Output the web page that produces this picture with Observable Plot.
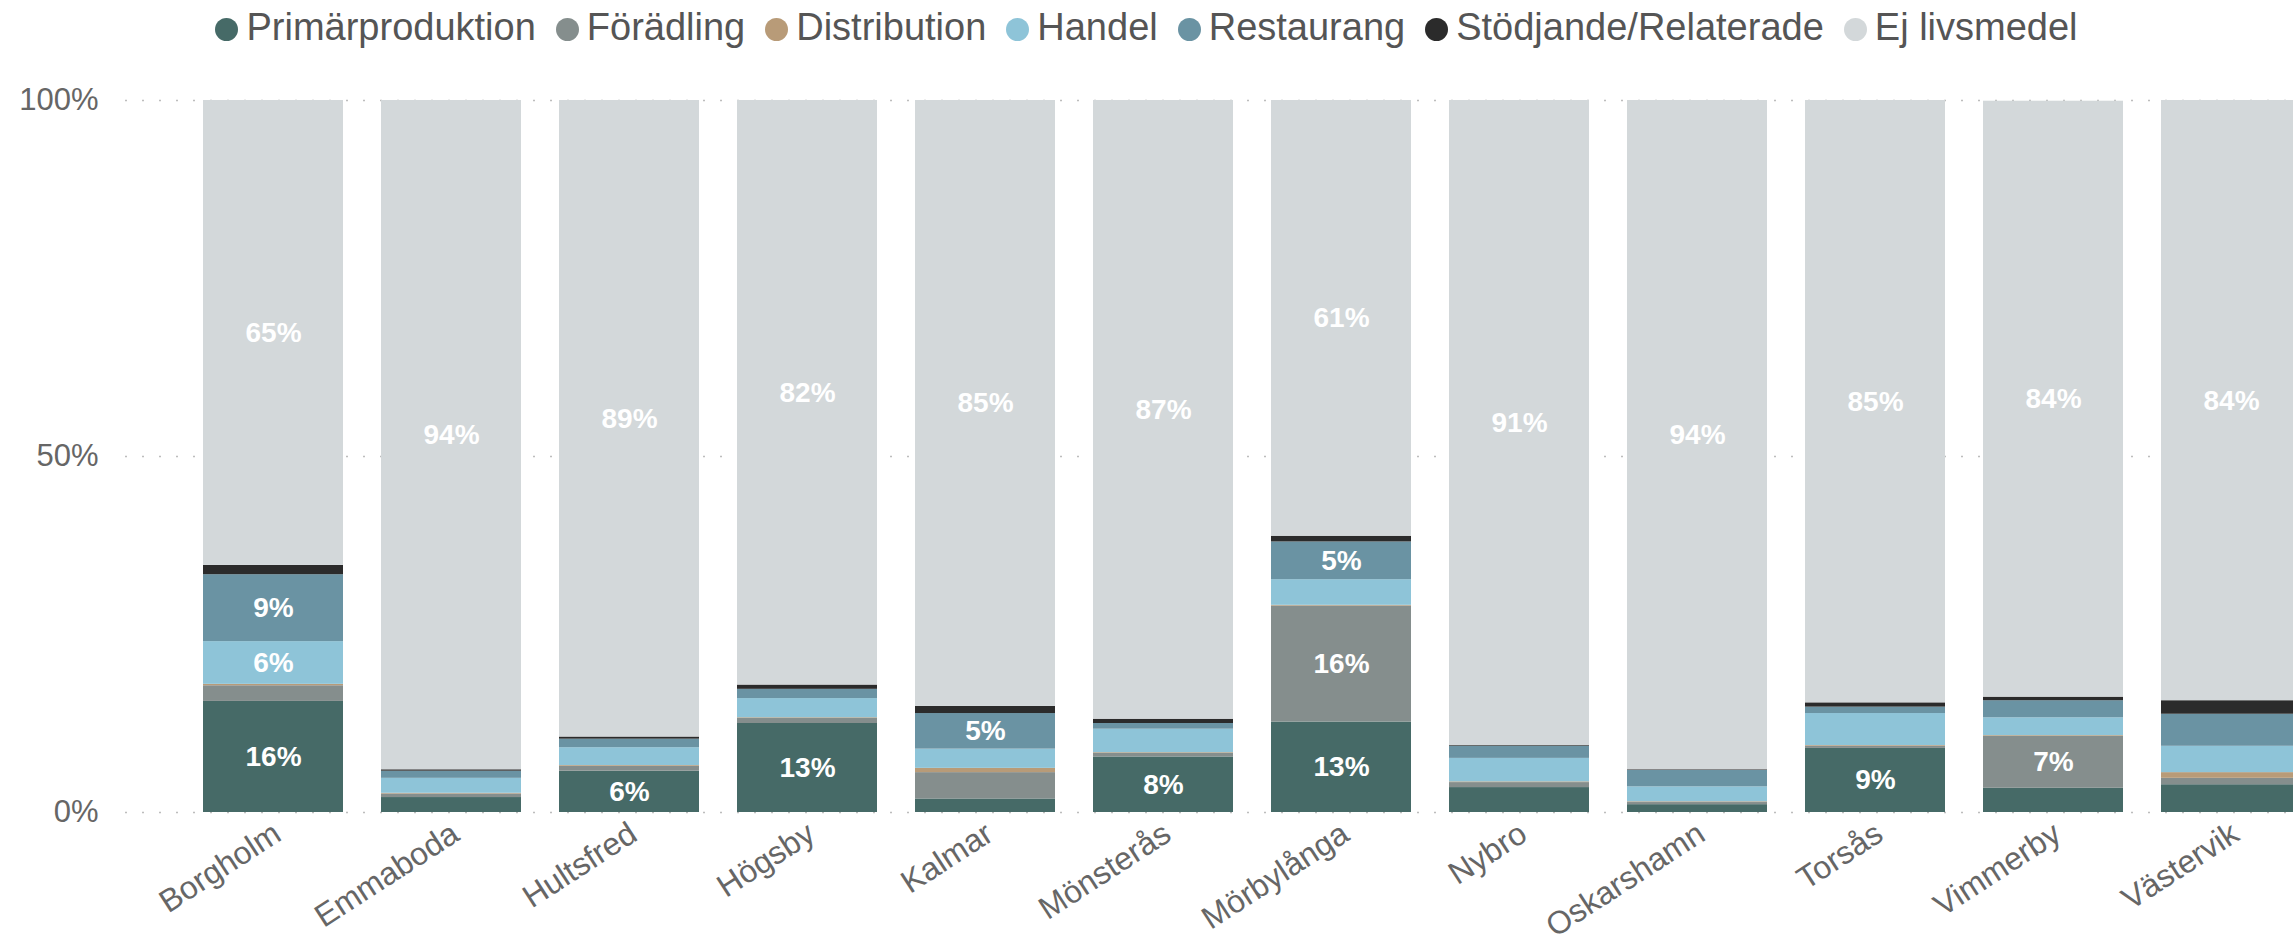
<!DOCTYPE html>
<html>
<head>
<meta charset="utf-8">
<script src="https://cdn.jsdelivr.net/npm/d3@7"></script>
<script src="https://cdn.jsdelivr.net/npm/@observablehq/plot@0.6"></script>
<style>
  html, body { margin: 0; padding: 0; background: #fff; overflow: hidden; }
  #legend { height: 54px; display: flex; justify-content: center; align-items: center; gap: 20px;
    font-family: "Liberation Sans", Arial, sans-serif; font-size: 38px; color: #555; white-space: nowrap; }
  .item { display: flex; align-items: center; gap: 8px; }
  .dot { width: 23px; height: 23px; border-radius: 50%; display: inline-block; margin-top: 4px; }
  #chart svg { overflow: hidden; }
</style>
</head>
<body>
<div id="legend"></div>
<div id="chart"></div>
<script>
const kommuner = ["Borgholm","Emmaboda","Hultsfred","Högsby","Kalmar","Mönsterås","Mörbylånga","Nybro","Oskarshamn","Torsås","Vimmerby","Västervik"];
const kategorier = ["Primärproduktion","Förädling","Distribution","Handel","Restaurang","Stödjande/Relaterade","Ej livsmedel"];
const farger = ["#466a67","#858e8d","#b89b78","#8ec4d8","#6a93a3","#2b2b2b","#d3d8da"];

const primarproduktion = [15.6, 2.1, 5.8, 12.5, 1.9, 7.8, 12.7, 3.5, 1.1, 9.0, 3.4, 3.9];
const foradling        = [ 2.2, 0.5, 0.7,  0.7, 3.7, 0.5, 16.3, 0.7, 0.3, 0.3, 7.3, 0.9];
const distribution     = [ 0.2, 0.1, 0.1,  0.1, 0.6, 0.1,  0.1, 0.1, 0.1, 0.1, 0.1, 0.8];
const handel           = [ 6.0, 2.1, 2.5,  2.7, 2.7, 3.3,  3.6, 3.3, 2.1, 4.5, 2.5, 3.7];
const restaurang       = [ 9.4, 1.0, 1.2,  1.3, 5.0, 0.8,  5.3, 1.7, 2.3, 0.9, 2.4, 4.5];
const stodjande        = [ 1.3, 0.2, 0.3,  0.6, 1.0, 0.6,  0.8, 0.1, 0.1, 0.6, 0.5, 1.9];
const ejLivsmedel      = [65.3,94.0,89.4, 82.1,85.1,86.9, 61.2,90.6,94.0,84.6,83.7,84.3];

const serier = [primarproduktion, foradling, distribution, handel, restaurang, stodjande, ejLivsmedel];
const rows = [];
kommuner.forEach((k, i) => {
  kategorier.forEach((c, j) => rows.push({kommun: k, kategori: c, value: serier[j][i]}));
});

// legend
const legend = document.getElementById("legend");
kategorier.forEach((c, j) => {
  const it = document.createElement("span");
  it.className = "item";
  it.innerHTML = `<span class="dot" style="background:${farger[j]}"></span><span>${c}</span>`;
  legend.appendChild(it);
});

const chart = Plot.plot({
  width: 2293,
  height: 898,
  marginTop: 46,
  marginBottom: 140,
  marginLeft: 162,
  marginRight: -48,
  style: {fontFamily: "'Liberation Sans', Arial, sans-serif", background: "white"},
  x: {domain: kommuner, paddingInner: 0.215, paddingOuter: 0.215},
  y: {domain: [0, 100]},
  color: {domain: kategorier, range: farger},
  marks: [
    Plot.ruleY([0, 50, 100], {stroke: "#bdbdbd", strokeWidth: 1.5, strokeDasharray: "2,15", insetLeft: -37}),
    Plot.barY(rows, {x: "kommun", y: "value", fill: "kategori", z: "kategori"}),
    Plot.text(rows, Plot.stackY({
      x: "kommun", y: "value", z: "kategori",
      text: d => d.value >= 4.75 ? Math.round(d.value) + "%" : "",
      fill: "white", fontWeight: "bold", fontSize: 28
    })),
    Plot.axisY({ticks: [0, 50, 100], tickFormat: d => d + "%", tickSize: 0, tickPadding: 64,
      fontSize: 31, color: "#666", label: null}),
    Plot.axisX({tickSize: 0, tickPadding: 18, tickRotate: -33, fontSize: 32, color: "#666", label: null, dx: 4})
  ]
});
document.getElementById("chart").appendChild(chart);
</script>
</body>
</html>
